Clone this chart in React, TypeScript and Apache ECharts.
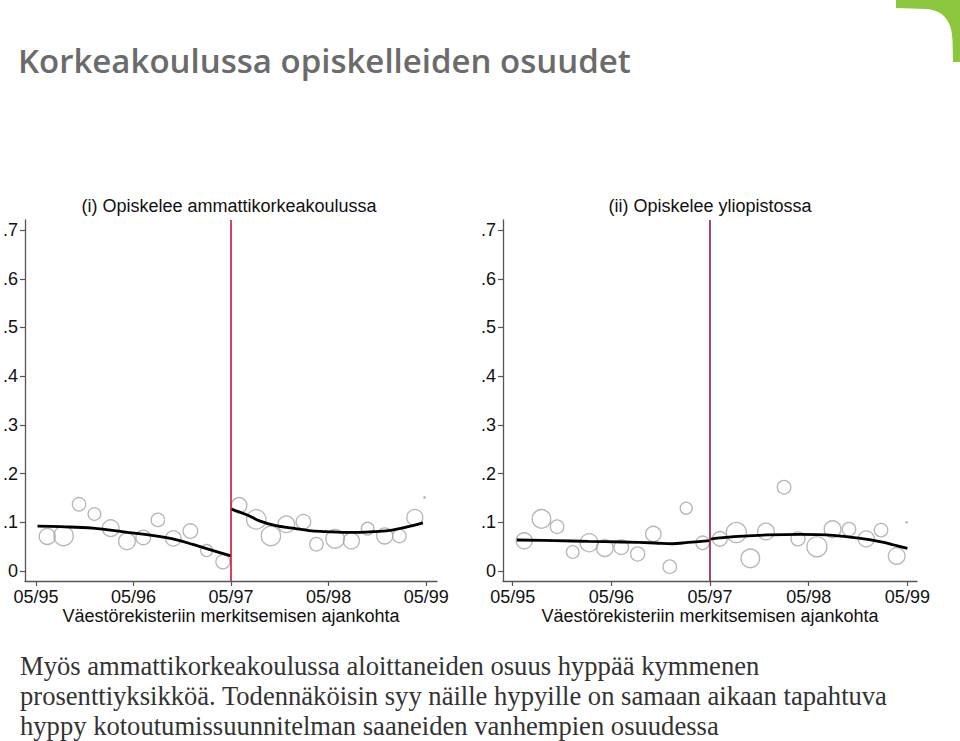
import React, { useEffect, useRef } from "react";
import * as echarts from "echarts";

// ---- text ----
const pageTitle = "Korkeakoulussa opiskelleiden osuudet";
const panelTitles = ["(i) Opiskelee ammattikorkeakoulussa", "(ii) Opiskelee yliopistossa"];
const xAxisName = "Väestörekisteriin merkitsemisen ajankohta";
const bodyLines = [
  "Myös ammattikorkeakoulussa aloittaneiden osuus hyppää kymmenen",
  "prosenttiyksikköä. Todennäköisin syy näille hypyille on samaan aikaan tapahtuva",
  "hyppy kotoutumissuunnitelman saaneiden vanhempien osuudessa",
];

// ---- axes (months since 05/95) ----
const tickMonths = [0, 12, 24, 36, 48];
const tickLabels = ["05/95", "05/96", "05/97", "05/98", "05/99"];
const yTicks = [0, 0.1, 0.2, 0.3, 0.4, 0.5, 0.6, 0.7];
const cutoffMonth = 24;

// ---- (i) ammattikorkeakoulu ----
const amkMonths = [1.4, 3.4, 5.3, 7.2, 9.2, 11.2, 13.2, 15.0, 16.9, 19.0, 21.0, 23.0, 25.0, 27.1, 28.9, 30.8, 32.9, 34.5, 36.8, 38.8, 40.8, 42.9, 44.7, 46.6, 47.8];
const amkShares = [0.071, 0.072, 0.137, 0.117, 0.088, 0.061, 0.069, 0.105, 0.067, 0.082, 0.042, 0.019, 0.135, 0.106, 0.072, 0.096, 0.101, 0.055, 0.066, 0.062, 0.087, 0.072, 0.072, 0.110, 0.151];
const amkWeights = [64, 94, 45, 40, 69, 69, 53, 45, 59, 53, 36, 49, 59, 94, 94, 69, 53, 45, 86, 64, 40, 64, 45, 64, 0.5];
const amkFitPreMonths = [0.2, 3, 7, 11, 14.5, 17.3, 19.4, 21.8, 24];
const amkFitPreValues = [0.092, 0.091, 0.088, 0.080, 0.0725, 0.064, 0.054, 0.042, 0.031];
const amkFitPostMonths = [24, 26, 27.5, 29.5, 31.6, 33.6, 35.7, 37.7, 39.7, 41.8, 43.8, 45.8, 47.6];
const amkFitPostValues = [0.127, 0.115, 0.103, 0.093, 0.088, 0.083, 0.081, 0.0795, 0.0795, 0.081, 0.084, 0.091, 0.099];

// ---- (ii) yliopisto ----
const yoMonths = [1.4, 3.5, 5.4, 7.3, 9.3, 11.2, 13.2, 15.2, 17.1, 19.1, 21.1, 23.1, 25.2, 27.2, 28.9, 30.8, 33.0, 34.7, 37.0, 38.9, 40.9, 43.0, 44.8, 46.7, 47.9];
const yoShares = [0.062, 0.107, 0.091, 0.039, 0.058, 0.047, 0.049, 0.035, 0.076, 0.009, 0.129, 0.058, 0.066, 0.079, 0.026, 0.081, 0.172, 0.066, 0.050, 0.086, 0.086, 0.066, 0.084, 0.031, 0.100];
const yoWeights = [64, 86, 45, 40, 81, 69, 53, 49, 59, 45, 36, 45, 53, 100, 86, 69, 45, 49, 100, 69, 45, 64, 45, 69, 0.5];
const yoFitPreMonths = [0.5, 5.2, 9.2, 13.3, 17.3, 19.4, 21.4, 24];
const yoFitPreValues = [0.0637, 0.0623, 0.061, 0.0596, 0.0575, 0.056, 0.0589, 0.0623];
const yoFitPostMonths = [24, 26.9, 31, 35, 39, 42.3, 44.8, 46.4, 48];
const yoFitPostValues = [0.0657, 0.0705, 0.074, 0.0753, 0.0733, 0.067, 0.060, 0.0534, 0.0466];

const FONT = "'Liberation Sans', Arial, Helvetica, sans-serif";
const AXIS_FS = 18;
const zip = (a: number[], b: number[], c?: number[]) => a.map((v, i) => (c ? [v, b[i], c[i]] : [v, b[i]]));

const cornerPath = "M896,0 L960,0 L960,62 L953,62 L952.5,40 C952,22 944,10 926,9 L896,8 Z";

export default function App() {
  const ref = useRef<HTMLDivElement>(null);
  useEffect(() => {
    if (!ref.current) return;
    echarts.graphic.registerShape("corner", echarts.graphic.extendPath(cornerPath, {}));
    const chart = echarts.init(ref.current, null, { renderer: "svg" });

    const grids = [
      { left: 22, top: 220, width: 415, height: 361 },
      { left: 503, top: 220, width: 414, height: 361 },
    ];
    const xRanges = [
      [-1.34, 49.33],
      [-1.18, 49.17],
    ];
    const cutColors = ["#c4163f", "#8a1d3f"];

    const xAxes = [0, 1].map((i) => ({
      type: "value",
      gridIndex: i,
      min: xRanges[i][0],
      max: xRanges[i][1],
      splitLine: { show: false },
      axisLine: { show: true, onZero: false, lineStyle: { color: "#555", width: 1.3 } },
      axisTick: { show: true, customValues: tickMonths, length: 5, lineStyle: { color: "#555", width: 1.2 } },
      axisLabel: {
        customValues: tickMonths,
        formatter: (v: number) => tickLabels[tickMonths.indexOf(Math.round(v))] ?? "",
        fontSize: AXIS_FS,
        color: "#111",
        fontFamily: FONT,
        margin: 7,
      },
      name: xAxisName,
      nameLocation: "middle",
      nameGap: 26,
      nameTextStyle: { fontSize: AXIS_FS, color: "#111", fontFamily: FONT },
    }));

    const yAxes = [0, 1].map((i) => ({
      type: "value",
      gridIndex: i,
      min: -0.0205,
      max: 0.7207,
      splitLine: { show: false },
      axisLine: { show: true, onZero: false, lineStyle: { color: "#555", width: 1.3 } },
      axisTick: { show: true, customValues: yTicks, length: 5, lineStyle: { color: "#555", width: 1.2 } },
      axisLabel: {
        customValues: yTicks,
        formatter: (v: number) => (Math.abs(v) < 1e-9 ? "0" : "." + Math.round(v * 10)),
        fontSize: AXIS_FS,
        color: "#111",
        fontFamily: FONT,
        margin: 7,
      },
    }));

    const panels = [
      { m: amkMonths, s: amkShares, w: amkWeights, pm: amkFitPreMonths, pv: amkFitPreValues, qm: amkFitPostMonths, qv: amkFitPostValues },
      { m: yoMonths, s: yoShares, w: yoWeights, pm: yoFitPreMonths, pv: yoFitPreValues, qm: yoFitPostMonths, qv: yoFitPostValues },
    ];

    const series: any[] = [];
    panels.forEach((p, i) => {
      series.push({
        type: "scatter",
        xAxisIndex: i,
        yAxisIndex: i,
        data: zip(p.m, p.s, p.w),
        symbol: "circle",
        symbolSize: (d: number[]) => 2 * Math.sqrt(d[2]),
        itemStyle: { color: "rgba(255,255,255,0)", borderColor: "#a3a3a3", borderWidth: 1.3 },
        silent: true,
        markLine: {
          silent: true,
          symbol: ["none", "none"],
          label: { show: false },
          lineStyle: { color: cutColors[i], width: 1.6, type: "solid" },
          data: [{ xAxis: cutoffMonth }],
        },
      });
      [
        [p.pm, p.pv],
        [p.qm, p.qv],
      ].forEach(([mm, vv]) => {
        series.push({
          type: "line",
          xAxisIndex: i,
          yAxisIndex: i,
          data: zip(mm, vv),
          smooth: 0.4,
          showSymbol: false,
          symbol: "none",
          lineStyle: { color: "#000", width: 2.8 },
          silent: true,
        });
      });
    });

    const graphic: any[] = [
      { type: "corner", x: 0, y: 0, style: { fill: "#8cc63e" } },
      {
        type: "text",
        x: 18,
        y: 60,
        style: { text: pageTitle, fontSize: 33, fontWeight: 600, fontFamily: "'Open Sans', 'Noto Sans', sans-serif", fill: "#6b6b6b", verticalAlign: "middle", align: "left" },
      },
      {
        type: "text",
        x: 229,
        y: 206,
        style: { text: panelTitles[0], fontSize: AXIS_FS, fontFamily: FONT, fill: "#111", align: "center", verticalAlign: "middle" },
      },
      {
        type: "text",
        x: 710,
        y: 206,
        style: { text: panelTitles[1], fontSize: AXIS_FS, fontFamily: FONT, fill: "#111", align: "center", verticalAlign: "middle" },
      },
      ...bodyLines.map((t, i) => ({
        type: "text",
        x: 20,
        y: 666 + i * 30,
        style: { text: t, fontSize: 26.6, fontFamily: "'Liberation Serif', 'DejaVu Serif', serif", fill: "#333", align: "left", verticalAlign: "middle" },
      })),
    ];

    chart.setOption({
      animation: false,
      backgroundColor: "#fff",
      grid: grids,
      xAxis: xAxes,
      yAxis: yAxes,
      series,
      graphic,
    });
    return () => chart.dispose();
  }, []);
  return <div ref={ref} style={{ position: "absolute", left: 0, top: 0, width: 960, height: 741 }} />;
}
